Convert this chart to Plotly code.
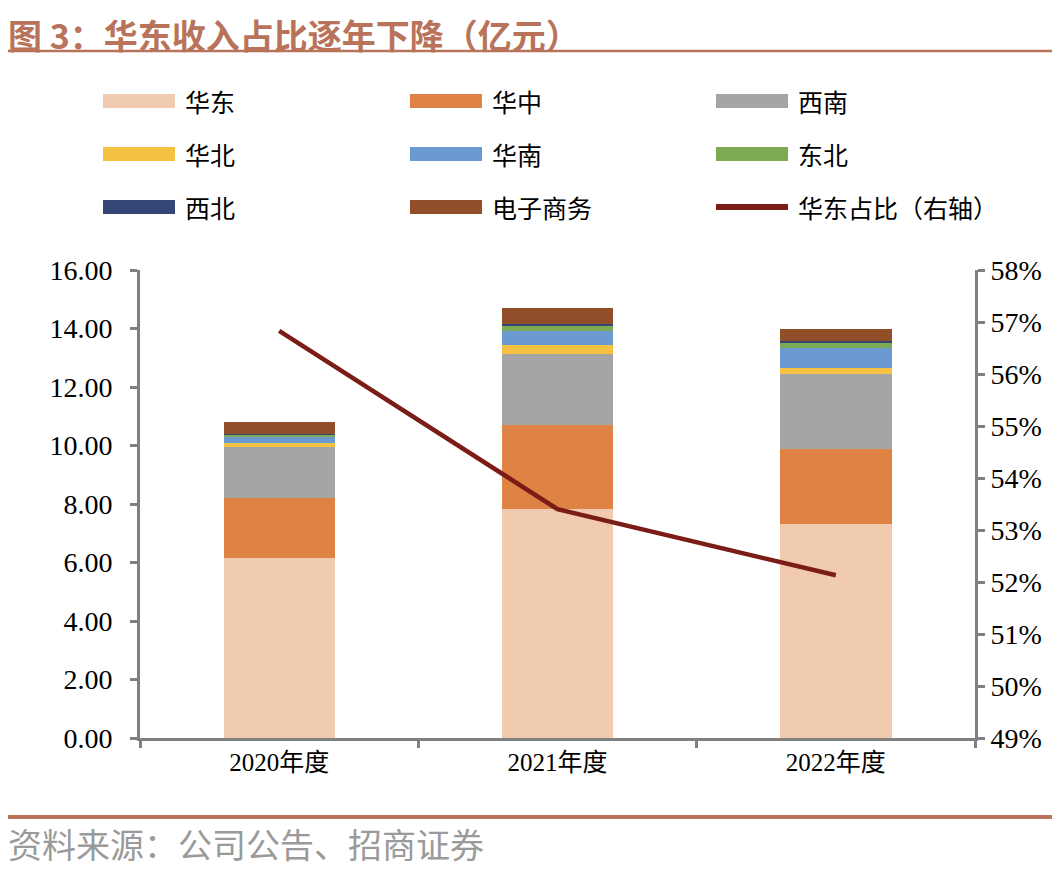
import plotly.graph_objects as go

# ---------------- data ----------------
years = ["2020年度", "2021年度", "2022年度"]
huadong = [6.15, 7.83, 7.32]
huazhong = [2.06, 2.87, 2.56]
xinan = [1.75, 2.44, 2.56]
huabei = [0.12, 0.30, 0.22]
huanan = [0.23, 0.49, 0.68]
dongbei = [0.05, 0.15, 0.16]
xibei = [0.02, 0.07, 0.08]
dianshang = [0.44, 0.54, 0.41]
huadong_share = [56.83, 53.40, 52.13]

series_names = ["华东", "华中", "西南", "华北", "华南", "东北", "西北", "电子商务"]
series_values = [huadong, huazhong, xinan, huabei, huanan, dongbei, xibei, dianshang]
series_colors = ["#F1CBAF", "#DE8344", "#A5A5A5", "#F5C142", "#6B9AD1",
                 "#7DAB55", "#334674", "#924E28"]
line_name = "华东占比（右轴）"
line_color = "#7B1C16"

title_text = "图 3：华东收入占比逐年下降（亿元）"
source_text = "资料来源：公司公告、招商证券"

# ---------------- layout helpers ----------------
OFF = 8  # page body margin
W, H = 1062 - OFF, 873 - OFF
L, R, T, B = 140 - OFF, 975 - OFF, 270 - OFF, 738 - OFF  # plot area (figure px)


def px_x(px):
    return (px - OFF - L) / (R - L)


def px_y(py):
    return (B - (py - OFF)) / (B - T)


SERIF = "Liberation Serif, Noto Sans CJK SC, serif"
CJK = "Noto Sans CJK SC, Liberation Serif, sans-serif"

fig = go.Figure()
for name, vals, col in zip(series_names, series_values, series_colors):
    fig.add_trace(go.Bar(x=years, y=vals, name=name, marker_color=col,
                         marker_line_width=0, showlegend=False, yaxis="y"))

fig.add_trace(go.Scatter(x=years, y=huadong_share, name=line_name, mode="lines",
                         line=dict(color=line_color, width=4.5),
                         showlegend=False, yaxis="y2"))

shapes = []
annotations = []

# manual legend (3 columns x 3 rows)
legend_items = list(zip(series_names, series_colors)) + [(line_name, line_color)]
col_x = [103, 410, 716]
row_y = [101, 154, 207]
sym_w = 72
for i, (name, col) in enumerate(legend_items):
    r, c = divmod(i, 3)
    x0 = col_x[c]
    yc = row_y[r]
    if name == line_name:
        shapes.append(dict(type="line", xref="paper", yref="paper",
                           x0=px_x(x0), x1=px_x(x0 + sym_w), y0=px_y(yc), y1=px_y(yc),
                           line=dict(color=col, width=6)))
    else:
        shapes.append(dict(type="rect", xref="paper", yref="paper",
                           x0=px_x(x0), x1=px_x(x0 + sym_w),
                           y0=px_y(yc + 7), y1=px_y(yc - 7),
                           fillcolor=col, line=dict(width=0)))
    annotations.append(dict(text=name, xref="paper", yref="paper",
                            x=px_x(x0 + sym_w + 8), y=px_y(yc), xanchor="left",
                            yanchor="middle", showarrow=False,
                            font=dict(family=CJK, size=25, color="#000000")))

# title and decorations
title_color = "#B8735A"
annotations.append(dict(text="<b>" + title_text + "</b>", xref="paper", yref="paper",
                        x=px_x(6), y=px_y(OFF), xanchor="left", yanchor="top",
                        showarrow=False, font=dict(family=CJK, size=34, color=title_color)))
shapes.append(dict(type="line", xref="paper", yref="paper", x0=px_x(6), x1=px_x(1052),
                   y0=px_y(51), y1=px_y(51), line=dict(color=title_color, width=2.5)))
shapes.append(dict(type="line", xref="paper", yref="paper", x0=px_x(6), x1=px_x(1052),
                   y0=px_y(817), y1=px_y(817), line=dict(color=title_color, width=4)))
annotations.append(dict(text=source_text, xref="paper", yref="paper",
                        x=px_x(6), y=px_y(843), xanchor="left", yanchor="middle",
                        showarrow=False, font=dict(family=CJK, size=34, color="#9A9A9A")))

axis_col = "#808080"
XFONT = dict(family=SERIF, size=25, color="#000000")
YFONT = dict(family=SERIF, size=28, color="#000000")
fig.update_layout(
    width=W, height=H,
    margin=dict(l=L, r=W - R, t=T, b=H - B, autoexpand=False),
    paper_bgcolor="white", plot_bgcolor="white",
    barmode="stack", bargap=0.6,
    showlegend=False,
    shapes=shapes, annotations=annotations,
    xaxis=dict(showline=True, linecolor=axis_col, linewidth=3,
               ticks="outside", tickson="boundaries", ticklen=7, tickwidth=3,
               tickcolor=axis_col, showgrid=False, tickfont=XFONT),
    yaxis=dict(range=[0, 16], dtick=2, tickformat=".2f", showline=True,
               linecolor=axis_col, linewidth=3, ticks="outside", ticklen=7,
               tickwidth=3, tickcolor=axis_col, showgrid=False, zeroline=False,
               tickfont=YFONT, ticklabelstandoff=12),
    yaxis2=dict(range=[49, 58], dtick=1, ticksuffix="%", overlaying="y", side="right",
                showline=True, linecolor=axis_col, linewidth=3, ticks="outside",
                ticklen=7, tickwidth=3, tickcolor=axis_col, showgrid=False,
                zeroline=False, tickfont=YFONT),
)

fig.write_html("out.html")
